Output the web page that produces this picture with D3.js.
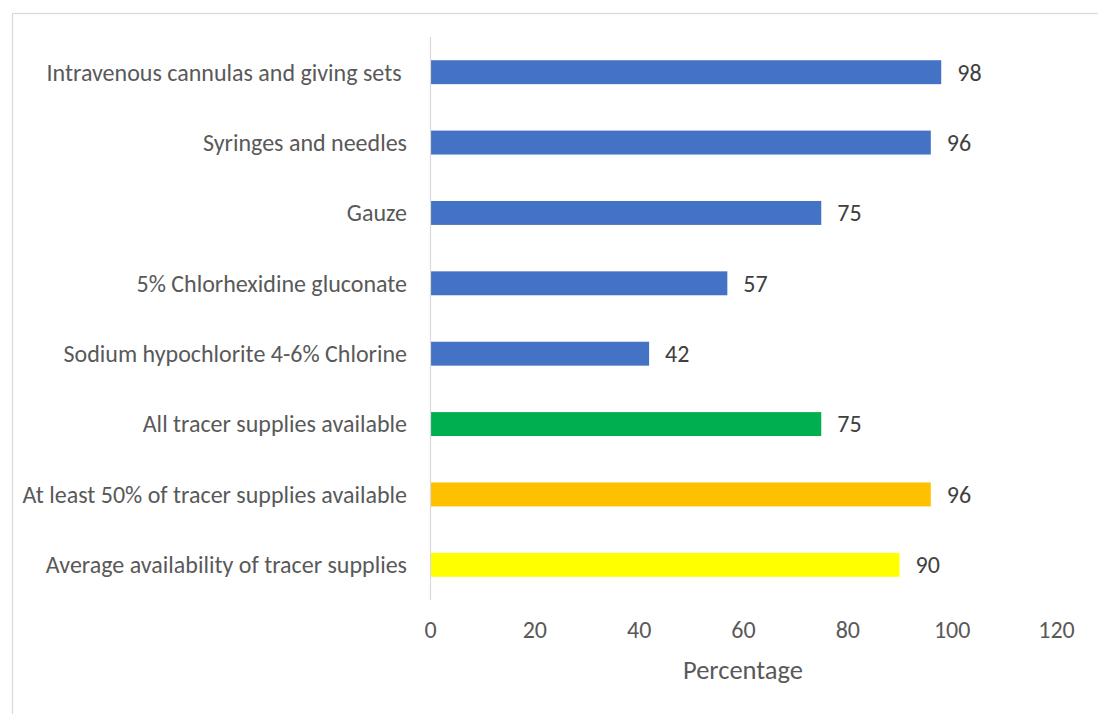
<!DOCTYPE html>
<html>
<head>
<meta charset="utf-8">
<script src="https://cdn.jsdelivr.net/npm/d3@7"></script>
<style>
  html, body { margin: 0; padding: 0; background: #fff; }
  svg { display: block; font-family: Carlito, Lato, "Open Sans", sans-serif; }
</style>
</head>
<body>
<div id="chart"></div>
<script>
// Availability of tracer supplies (percentage of facilities)
const categories = [
  "Intravenous cannulas and giving sets ",
  "Syringes and needles",
  "Gauze",
  "5% Chlorhexidine gluconate",
  "Sodium hypochlorite 4-6% Chlorine",
  "All tracer supplies available",
  "At least 50% of tracer supplies available",
  "Average availability of tracer supplies"
];
const values = [98, 96, 75, 57, 42, 75, 96, 90];
const barColors = ["#4472C4", "#4472C4", "#4472C4", "#4472C4", "#4472C4", "#00B050", "#FFC000", "#FFFF00"];
const xTicks = [0, 20, 40, 60, 80, 100, 120];
const axisTitle = "Percentage";

const width = 1098, height = 714;
const plot = { left: 430, right: 1056, top: 37, bottom: 600 };
const fontFamily = "Carlito, Lato, 'Open Sans', sans-serif";

const svg = d3.select("#chart").append("svg")
  .attr("width", width).attr("height", height);

// chart frame
svg.append("rect")
  .attr("x", 12.5).attr("y", 13.5)
  .attr("width", 1100).attr("height", 720)
  .attr("fill", "none").attr("stroke", "#d9d9d9").attr("stroke-width", 1.2);

const x = d3.scaleLinear().domain([0, 120]).range([plot.left, plot.right]);
const y = d3.scaleBand().domain(categories).range([plot.top, plot.bottom]).paddingInner(0.66).paddingOuter(0.33);

// bars
svg.append("g").selectAll("rect")
  .data(values)
  .join("rect")
  .attr("x", x(0))
  .attr("y", (d, i) => y(categories[i]))
  .attr("width", d => x(d) - x(0))
  .attr("height", y.bandwidth())
  .attr("fill", (d, i) => barColors[i]);

// vertical category axis line
svg.append("line")
  .attr("x1", x(0) + 0.5).attr("x2", x(0) + 0.5)
  .attr("y1", plot.top).attr("y2", plot.bottom)
  .attr("stroke", "#d9d9d9").attr("stroke-width", 1.2);

// category labels
svg.append("g").selectAll("text")
  .data(categories)
  .join("text")
  .attr("x", 407)
  .attr("y", d => y(d) + y.bandwidth() / 2)
  .attr("dy", "0.35em")
  .attr("text-anchor", "end")
  .style("white-space", "pre")
  .attr("fill", "#595959")
  .attr("font-size", 24)
  .text(d => d);

// value labels
svg.append("g").selectAll("text")
  .data(values)
  .join("text")
  .attr("x", d => x(d) + 16)
  .attr("y", (d, i) => y(categories[i]) + y.bandwidth() / 2)
  .attr("dy", "0.35em")
  .attr("fill", "#404040")
  .attr("font-size", 24)
  .text(d => d);

// value axis (labels only)
const xAxis = svg.append("g")
  .attr("transform", `translate(0,${plot.bottom})`)
  .call(d3.axisBottom(x).tickValues(xTicks).tickSize(0).tickPadding(21));
xAxis.select(".domain").remove();
xAxis.selectAll("text")
  .attr("fill", "#595959")
  .attr("font-size", 24)
  .attr("font-family", fontFamily);

// axis title
svg.append("text")
  .attr("x", (plot.left + plot.right) / 2)
  .attr("y", 670)
  .attr("dy", "0.35em")
  .attr("text-anchor", "middle")
  .attr("fill", "#595959")
  .attr("font-size", 26.5)
  .text(axisTitle);
</script>
</body>
</html>
